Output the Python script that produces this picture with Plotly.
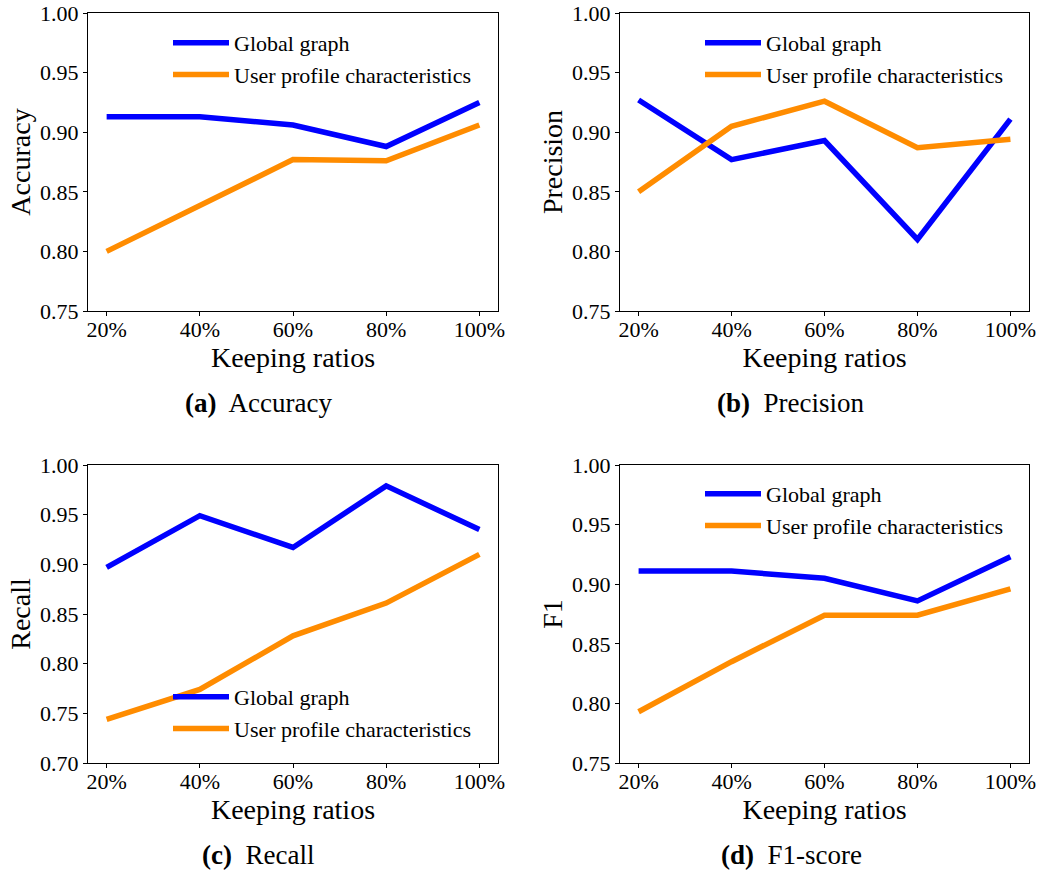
import plotly.graph_objects as go

ratios = ["20%", "40%", "60%", "80%", "100%"]
series_names = ["Global graph", "User profile characteristics"]

acc_global = [0.913, 0.913, 0.906, 0.888, 0.925]
acc_user = [0.800, 0.839, 0.877, 0.876, 0.906]
prec_global = [0.927, 0.877, 0.893, 0.810, 0.911]
prec_user = [0.850, 0.905, 0.926, 0.887, 0.894]
rec_global = [0.897, 0.949, 0.917, 0.979, 0.935]
rec_user = [0.744, 0.774, 0.828, 0.861, 0.910]
f1_global = [0.911, 0.911, 0.905, 0.886, 0.923]
f1_user = [0.793, 0.835, 0.874, 0.874, 0.896]

y_titles = ["Accuracy", "Precision", "Recall", "F1"]
captions = [("(a)", "Accuracy"), ("(b)", "Precision"), ("(c)", "Recall"), ("(d)", "F1-score")]
y_ranges = [(0.75, 1.00), (0.75, 1.00), (0.70, 1.00), (0.75, 1.00)]
y_ticks = [
    [0.75, 0.80, 0.85, 0.90, 0.95, 1.00],
    [0.75, 0.80, 0.85, 0.90, 0.95, 1.00],
    [0.70, 0.75, 0.80, 0.85, 0.90, 0.95, 1.00],
    [0.75, 0.80, 0.85, 0.90, 0.95, 1.00],
]
data = [(acc_global, acc_user), (prec_global, prec_user), (rec_global, rec_user), (f1_global, f1_user)]

W, H = 1038, 874
FONT = "Liberation Serif"
BLUE = "#0000ff"
ORANGE = "#ff8c00"

# panel boxes in pixels (left, right, top, bottom)
boxes = [(88, 498, 13, 311), (620, 1029, 13, 311), (88, 498, 465, 763), (620, 1029, 465, 763)]
legend_pos = [(168, 22), (700, 22), (168, 676), (700, 473)]
caption_pos = [(258, 403), (790, 403), (258, 855), (791, 855)]

fig = go.Figure()
layout = {}
for i, ((g, u), box) in enumerate(zip(data, boxes)):
    n = "" if i == 0 else str(i + 1)
    leg = "legend" if i == 0 else f"legend{i+1}"
    l, r, t, b = box
    fig.add_trace(go.Scatter(x=ratios, y=g, mode="lines", name=series_names[0],
                             line=dict(color=BLUE, width=5.5), xaxis="x" + n, yaxis="y" + n, legend=leg))
    fig.add_trace(go.Scatter(x=ratios, y=u, mode="lines", name=series_names[1],
                             line=dict(color=ORANGE, width=5.5), xaxis="x" + n, yaxis="y" + n, legend=leg))
    layout["xaxis" + n] = dict(
        domain=[l / W, r / W], anchor="y" + n, type="category", range=[-0.2, 4.2],
        automargin=False,
        showline=True, linecolor="black", linewidth=1, mirror=True, showgrid=False, zeroline=False,
        ticks="outside", ticklen=4, tickcolor="black", ticklabelstandoff=-5,
        tickfont=dict(family=FONT, size=22, color="black"),
        title=dict(text="Keeping ratios", font=dict(family=FONT, size=28, color="black"), standoff=2),
    )
    layout["yaxis" + n] = dict(
        domain=[1 - b / H, 1 - t / H], anchor="x" + n, range=list(y_ranges[i]),
        automargin=False,
        tickvals=y_ticks[i], ticktext=[f"{v:.2f}" for v in y_ticks[i]],
        showline=True, linecolor="black", linewidth=1, mirror=True, showgrid=False, zeroline=False,
        ticks="outside", ticklen=4, tickcolor="black",
        tickfont=dict(family=FONT, size=22, color="black"),
        title=dict(text=y_titles[i], font=dict(family=FONT, size=28, color="black"), standoff=1),
    )
    lx, ly = legend_pos[i]
    layout[leg] = dict(
        x=lx / W, y=1 - ly / H, xanchor="left", yanchor="top", bgcolor="rgba(0,0,0,0)",
        font=dict(family=FONT, size=22, color="black"), itemwidth=56, tracegroupgap=0,
    )

annotations = []
for (lab, txt), (cx, cy) in zip(captions, caption_pos):
    annotations.append(dict(
        text=f"<b>{lab}</b>  {txt}", x=cx / W, y=1 - cy / H, xref="paper", yref="paper",
        showarrow=False, xanchor="center", yanchor="middle",
        font=dict(family=FONT, size=27, color="black"),
    ))

fig.update_layout(
    width=W, height=H, margin=dict(l=0, r=0, t=0, b=0, autoexpand=False),
    paper_bgcolor="white", plot_bgcolor="white",
    annotations=annotations, **layout,
)
fig.write_html(
    "out.html",
    config={"displayModeBar": False},
    post_script="document.body.style.margin='0';document.body.style.overflow='hidden';",
)
